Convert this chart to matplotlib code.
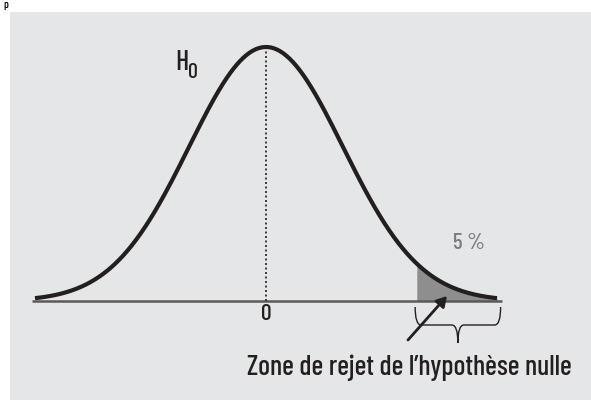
import numpy as np
import matplotlib
matplotlib.use("Agg")
import matplotlib.pyplot as plt
from matplotlib.patches import Rectangle, FancyArrowPatch, PathPatch
from matplotlib.path import Path
from matplotlib import font_manager

# Data
z_range = [-3.0, 3.0]          # extent of the H0 density curve (sigma units)
axis_range = [-3.04, 3.06]     # extent of the horizontal axis
critical_z = 1.95              # start of the rejection zone
mean_label = "0"
hyp_main, hyp_sub = "H", "0"
alpha_label = "5 %"
zone_label = "Zone de rejet de l\u2019hypoth\u00e8se nulle"

names = {f.name for f in font_manager.fontManager.ttflist}
fam = "DejaVu Sans"
for cand in ["Barlow Condensed", "Fira Sans Condensed", "Archivo Narrow", "Asap Condensed"]:
    if cand in names:
        fam = cand
        break
plt.rcParams['font.family'] = [fam, 'DejaVu Sans']
plt.rcParams['font.weight'] = 'medium'

W, H = 591, 400
fig = plt.figure(figsize=(W/100, H/100), dpi=100)
fig.patch.set_facecolor('white')
fig.patches.append(Rectangle((10/W, 0), 581/W, 388/H, transform=fig.transFigure,
                             facecolor='#e5e6e8', edgecolor='none', zorder=-5))
fig.text(6/W, 1.0 - 5/H, "p", fontsize=8, color='black', ha='center', va='center')

ax = fig.add_axes([0, 0, 1, 1])
ax.set_zorder(2)
ax.patch.set_alpha(0)
cx, s, base, top = 266, 77.0, 301, 47
ax.set_xlim(-cx/s, (W-cx)/s)
ax.set_ylim(-(H-base)/(base-top), base/(base-top))
ax.axis('off')

def px(xp, yp):
    return ((xp - cx)/s, (base - yp)/(base - top))

z = np.linspace(z_range[0], z_range[1], 600)
r = np.exp(-z**2/2)

ink = '#231f20'
# axis line
ax.plot(axis_range, [0, 0], color='#5a5a5a', lw=1.8, zorder=2, solid_capstyle='butt')
# shaded tail
zs = z[z >= critical_z]
ax.fill_between(zs, 0, np.exp(-zs**2/2), color='#8e8e8e', lw=0, zorder=1)
# curve
ax.plot(z, r, color=ink, lw=3.0, zorder=3, solid_capstyle='butt')
# dotted mean line
ax.plot([0, 0], [0, 1], color=ink, lw=1.2, ls=(0, (1.2, 1.5)), zorder=2)

# zone label: fit its width to ~325 px
renderer = fig.canvas.get_renderer()
fs = 16
t = ax.text(*px(409, 368), zone_label, ha='center', va='center', fontsize=fs, color=ink)
wpx = t.get_window_extent(renderer).width
fs = fs * 325.0 / wpx
t.set_fontsize(fs)

ax.text(*px(266, 314), mean_label, ha='center', va='center', fontsize=fs*0.85, color=ink)
ax.text(*px(182, 63), hyp_main, ha='center', va='center', fontsize=fs*1.0, color=ink)
ax.text(*px(193, 73), hyp_sub, ha='center', va='center', fontsize=fs*0.78, color=ink)
ax.text(*px(469, 243), alpha_label, ha='center', va='center', fontsize=fs*0.82, color='#7d7d7d')

# brace
x0 = (critical_z*s + cx) - 1
x1 = axis_range[1]*s + cx - 1
xm = (x0 + x1)/2
yt, yh, yb = 307, 325, 343
verts = [px(x0, yt), px(x0, yh), px(x0+6, yh),
         px(xm-6, yh), px(xm, yh), px(xm, yb),
         px(xm, yh), px(xm+6, yh), px(x1-6, yh),
         px(x1, yh), px(x1, yt)]
codes = [Path.MOVETO, Path.CURVE3, Path.CURVE3,
         Path.LINETO, Path.CURVE3, Path.CURVE3,
         Path.CURVE3, Path.CURVE3, Path.LINETO,
         Path.CURVE3, Path.CURVE3]
ax.add_patch(PathPatch(Path(verts, codes), facecolor='none', edgecolor=ink, lw=1.0, zorder=3))

# arrow
arr = FancyArrowPatch(px(408, 340), px(447, 296), arrowstyle='-|>,head_length=6,head_width=3.5',
                      color=ink, lw=2.0, zorder=4, shrinkA=0, shrinkB=0)
ax.add_patch(arr)

fig.savefig("out.png", dpi=100)
